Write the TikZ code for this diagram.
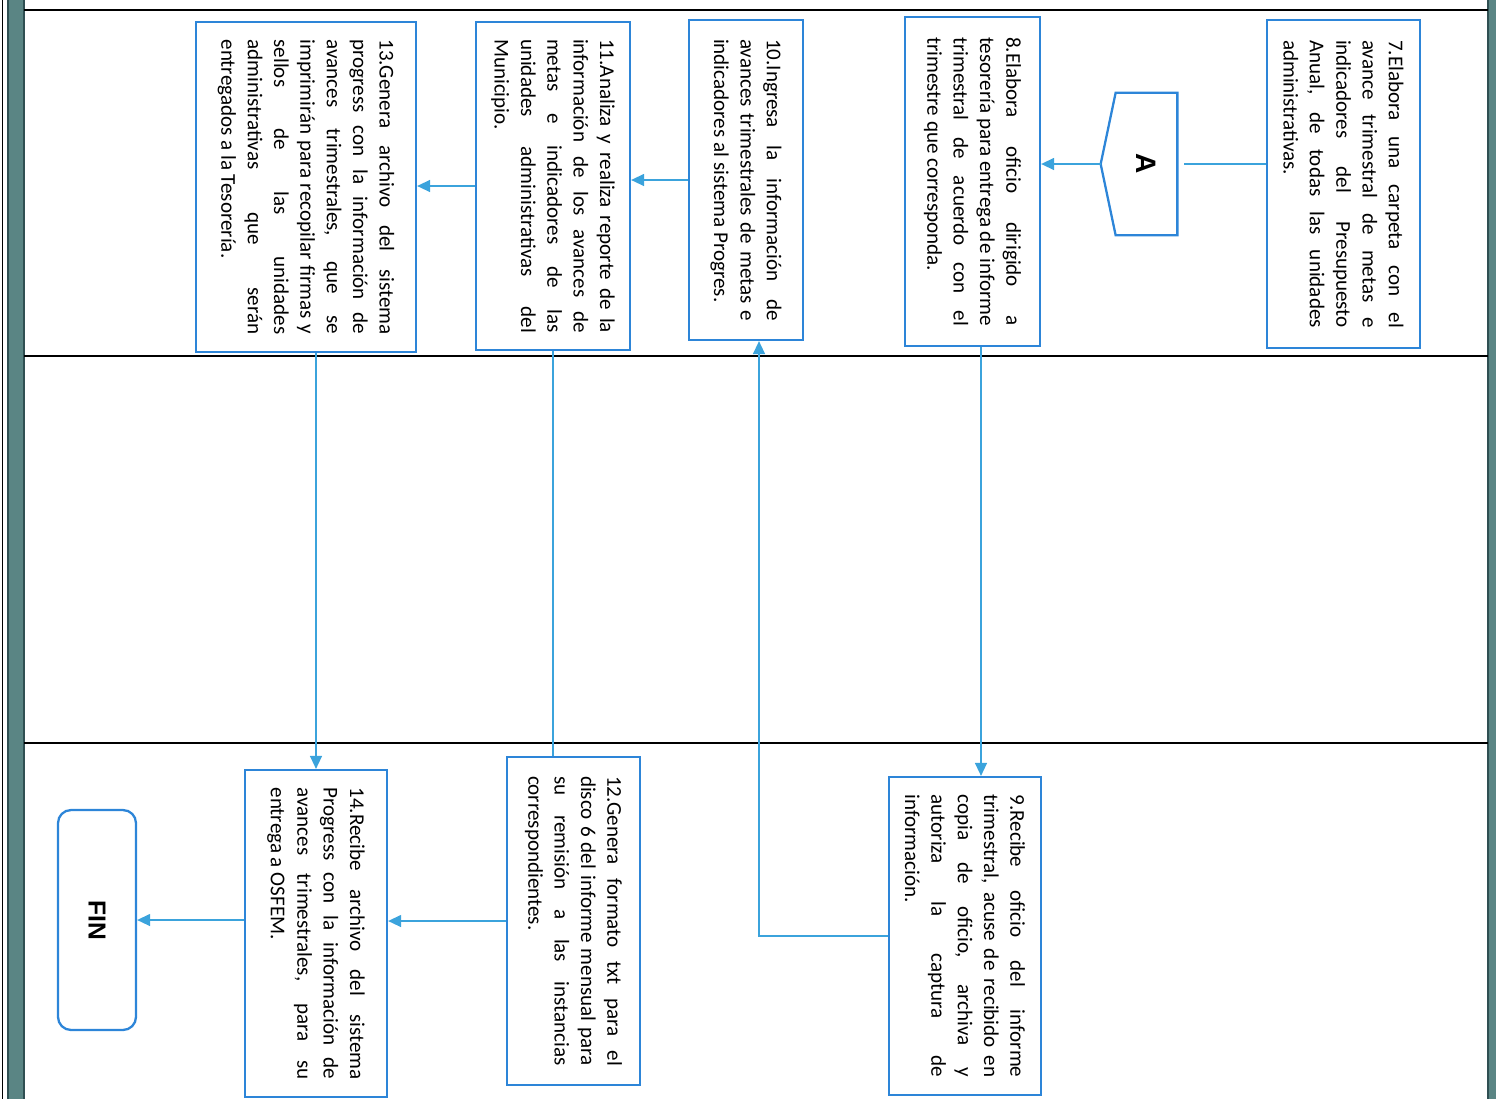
\documentclass[tikz,border=0pt]{standalone}
\usepackage{fontspec}
\setmainfont{Carlito}
\newfontfamily\labelfont{Liberation Sans}
\usetikzlibrary{arrows.meta,positioning,calc}
\hyphenpenalty=10000
\exhyphenpenalty=10000
\definecolor{boxblue}{HTML}{2D85D8}
\definecolor{linkblue}{HTML}{3BA3DC}
\definecolor{laneteal}{HTML}{5A8584}
\definecolor{lanedark}{HTML}{2F4F52}
\tikzset{
  >={Triangle[length=2.6mm,width=2.4mm]},
  stepbox/.style={draw=boxblue,line width=1.3pt,fill=white,rotate=-90,align=justify,
    inner sep=0pt,font=\fontsize{12}{15}\selectfont},
  endbox/.style={draw=boxblue,line width=1.3pt,fill=white,rotate=-90,rounded corners=2.6mm,
    inner sep=0pt,font=\labelfont\bfseries\fontsize{14}{16}\selectfont},
  offpage/.style={rotate=-90,inner sep=0pt,font=\labelfont\bfseries\fontsize{16}{18}\selectfont},
  flow/.style={->,line width=.8pt,color=linkblue},
  link/.style={line width=.8pt,color=linkblue},
  laneline/.style={line width=.6pt,color=black},
}

\begin{document}
\begin{tikzpicture}[x=0.02cm,y=-0.02cm]
  \useasboundingbox (0,0) rectangle (1496,1099);

  % lanes
  \fill[laneteal] (8,0) rectangle (24,1099);
  \draw[lanedark,line width=.6pt] (8,0) -- (8,1099) (24,0) -- (24,1099);
  \draw[line width=.5pt] (2,0) -- (2,1099);
  \fill[laneteal] (1488,0) rectangle (1496,1099);
  \draw[lanedark,line width=.6pt] (1488,0) -- (1488,1099);
  \draw[laneline] (24,10) -- (1488,10);
  \draw[laneline] (24,356) -- (1488,356);
  \draw[laneline] (24,743) -- (1488,743);

  % lane 1
  \node[stepbox,minimum width=6.56cm,minimum height=3.06cm,text width=5.76cm] (s7) at (1343.5,184)
    {7.Elabora una carpeta con el\linebreak avance trimestral de metas e\linebreak indicadores del Presupuesto\linebreak Anual, de todas las unidades\linebreak administrativas.};
  \node[offpage,minimum width=2.84cm,minimum height=1.22cm] (A) at (1146.5,164) {A};
  \coordinate (Atip) at ([xshift=-0.3cm]A.south);
  \draw[boxblue,line width=1.3pt] (A.north west) -- (A.north east) -- (A.south east)
    -- (Atip) -- (A.south west) -- cycle;
  \node[stepbox,minimum width=6.58cm,minimum height=2.70cm,text width=5.78cm] (s8) at (972.5,181.5)
    {8.Elabora oficio dirigido a\linebreak tesorería para entrega de informe\linebreak trimestral de acuerdo con el\linebreak trimestre que corresponda.};
  \node[stepbox,minimum width=6.40cm,minimum height=2.28cm,text width=5.64cm] (s10) at (746,180)
    {10.Ingresa la información de\linebreak avances trimestrales de metas e\linebreak indicadores al sistema Progres.};
  \node[stepbox,minimum width=6.56cm,minimum height=3.08cm,text width=5.88cm] (s11) at (553,186)
    {11.Analiza y realiza reporte de la\linebreak información de los avances de\linebreak metas e indicadores de las\linebreak unidades administrativas del\linebreak Municipio.};
  \node[stepbox,minimum width=6.60cm,minimum height=4.40cm,text width=5.90cm] (s13) at (306,187)
    {13.Genera archivo del sistema\linebreak progress con la información de\linebreak avances trimestrales, que se\linebreak imprimirán para recopilar firmas y\linebreak sellos de las unidades\linebreak administrativas que serán\linebreak entregados a la Tesorería.};

  % lane 3
  \node[stepbox,minimum width=6.36cm,minimum height=3.04cm,text width=5.66cm] (s9) at (965,936)
    {9.Recibe oficio del informe\linebreak trimestral, acuse de recibido en\linebreak copia de oficio, archiva y\linebreak autoriza la captura de\linebreak información.};
  \node[stepbox,minimum width=6.56cm,minimum height=2.66cm,text width=5.80cm] (s12) at (573.5,921)
    {12.Genera formato txt para el\linebreak disco 6 del informe mensual para\linebreak su remisión a las instancias\linebreak correspondientes.};
  \node[stepbox,minimum width=6.54cm,minimum height=2.84cm,text width=5.84cm] (s14) at (316,933.5)
    {14.Recibe archivo del sistema\linebreak Progress con la información de\linebreak avances trimestrales, para su\linebreak entrega a OSFEM.};
  \node[endbox,minimum width=4.40cm,minimum height=1.56cm] (fin) at (97,920) {FIN};

  % connectors
  \draw[link,shorten >=1.4mm] (s7.south |- A.north) -- (A.north);
  \draw[flow] (Atip) -- (Atip -| s8.north);
  \coordinate (j89) at ([xshift=0.17cm]s8.east);
  \draw[flow] (j89) -- (j89 |- s9.west);
  \draw[flow] (s9.south) -| ([xshift=0.26cm]s10.east);
  \draw[flow] (s10.south) -- (s10.south -| s11.north);
  \draw[flow] (s11.south) -- (s11.south -| s13.north);
  \draw[link] (s11.east) -- (s11.east |- s12.west);
  \draw[flow] (s14.west |- s13.east) -- (s14.west);
  \draw[flow] (s12.south) -- (s12.south -| s14.north);
  \draw[flow] (s14.south |- fin.north) -- (fin.north);
\end{tikzpicture}
\end{document}
